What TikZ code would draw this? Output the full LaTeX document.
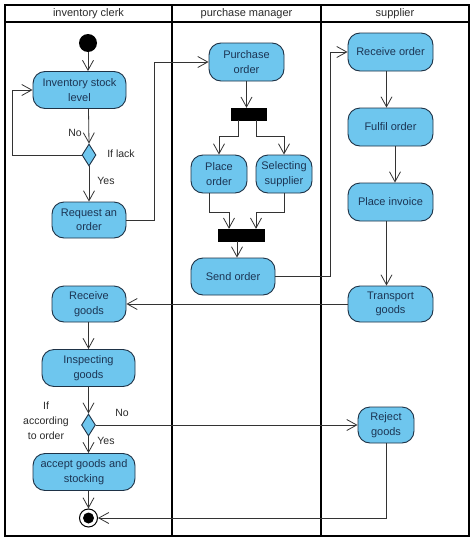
\documentclass[tikz,border=0pt]{standalone}
\usepackage{fontspec}
\setmainfont{Liberation Sans}
\usetikzlibrary{arrows.meta,shapes.geometric,calc}
\definecolor{actfill}{HTML}{6EC6EE}
\definecolor{actline}{HTML}{1E3246}
\definecolor{acttext}{HTML}{1C3554}
\definecolor{conn}{HTML}{333333}
\definecolor{lbl}{HTML}{2A2A2A}
\begin{document}
\begin{tikzpicture}[x=1pt,y=-1pt,
  act/.style={draw=actline, line width=0.9pt, fill=actfill, rounded corners=12pt,
    text=acttext, align=center, inner sep=0pt, font=\fontsize{11}{14.5}\selectfont},
  bar/.style={draw=black, fill=black, inner sep=0pt, minimum height=12pt},
  dec/.style={shape=diamond, draw=actline, line width=0.9pt, fill=actfill, inner sep=0pt,
    minimum width=14pt, minimum height=22pt},
  arr/.style={draw=conn, line width=0.8pt, -{Straight Barb[length=10pt,width=11pt,line width=0.8pt]}},
  lab/.style={text=lbl, font=\fontsize{10.5}{15}\selectfont, inner sep=0pt, align=center},
  hdr/.style={text=lbl, font=\fontsize{11}{13}\selectfont, inner sep=0pt},
  lane/.style={draw=black, line width=1.6pt}
]
\useasboundingbox (0,0) rectangle (474,541);
\fill[white] (0,0) rectangle (474,541);
% swimlane frame
\draw[lane] (5,5) rectangle (469,536);
\draw[lane] (5,22) -- (469,22);
\draw[lane] (172,5) -- (172,536);
\draw[lane] (321,5) -- (321,536);
\node[hdr] (h1) at (88.5,13.5) {inventory clerk};
\node[hdr] (h2) at (246.5,13.5) {purchase manager};
\node[hdr] (h3) at (395,13.5) {supplier};

% nodes: inventory clerk
\node[circle, fill=black, minimum size=18pt, inner sep=0pt] (init) at (88,43) {};
\node[act, minimum width=93pt, minimum height=37pt] (inv) at (79.5,90) {Inventory stock\\level};
\node[dec] (d1) at (89,155) {};
\node[act, minimum width=74pt, minimum height=36pt] (req) at (89,220) {Request an\\order};
\node[act, minimum width=74pt, minimum height=36pt] (rg) at (89,304) {Receive\\goods};
\node[act, minimum width=93pt, minimum height=37pt] (insp) at (88.5,368) {Inspecting\\goods};
\node[dec] (d2) at (88.5,425) {};
\node[act, minimum width=102pt, minimum height=37pt] (acc) at (84,472) {accept goods and\\stocking};
\node[circle, draw=black, line width=1pt, fill=white, minimum size=18pt, inner sep=0pt] (fin) at (88.5,518) {};
\fill[black] (fin.center) circle (5.5pt);

% purchase manager
\node[act, minimum width=75pt, minimum height=38pt] (po) at (246.5,62) {Purchase\\order};
\node[bar, minimum width=35pt] (fork1) at (248.5,114) {};
\node[act, minimum width=56pt, minimum height=38pt] (place) at (219,174) {Place\\order};
\node[act, minimum width=56pt, minimum height=38pt] (sel) at (284,174) {Selecting\\supplier};
\node[bar, minimum width=46pt] (fork2) at (241,235) {};
\node[act, minimum width=84pt, minimum height=37pt] (send) at (233,276.5) {Send order};

% supplier
\node[act, minimum width=85pt, minimum height=38pt] (ro) at (390.5,52) {Receive order};
\node[act, minimum width=85pt, minimum height=38pt] (ful) at (390.5,127) {Fulfil order};
\node[act, minimum width=85pt, minimum height=38pt] (pinv) at (390.5,202) {Place invoice};
\node[act, minimum width=85pt, minimum height=36pt] (tr) at (390.5,304) {Transport\\goods};
\node[act, minimum width=56pt, minimum height=36pt] (rej) at (386,425) {Reject\\goods};

% labels
\node[lab] (lno1) at (75,133) {No};
\node[lab] (llack) at (121,154) {If lack};
\node[lab] (lyes1) at (106,181) {Yes};
\node[lab] (lacc) at (46,421) {If\\according\\to order};
\node[lab] (lno2) at (122,413) {No};
\node[lab] (lyes2) at (106,441) {Yes};

% connectors
\draw[arr] (init.south) -- (init.south |- inv.north);
\draw[arr] ([xshift=9pt]inv.south) -- (d1.north);
\draw[arr] (d1.west) -- ++(-69,0) |- (inv.west);
\draw[arr] (d1.south) -- (d1.south |- req.north);
\draw[arr] (req.east) -- ++(28,0) |- (po.west);
\draw[arr] (po.south) -- (po.south |- fork1.north);
\draw[arr] ([xshift=-10.5pt]fork1.south) -- ++(0,16) -| (place.north);
\draw[arr] ([xshift=7.5pt]fork1.south) -- ++(0,16) -| (sel.north);
\draw[arr] ([xshift=-10pt]place.south) -- ++(0,19) -| ([xshift=-12pt]fork2.north);
\draw[arr] (sel.south) -- ++(0,19) -| ([xshift=15pt]fork2.north);
\draw[arr] ([xshift=-4pt]fork2.south) -- ([xshift=4pt]send.north);
\draw[arr] (send.east) -- ++(55,0) |- (ro.west);
\draw[arr] ([xshift=-4pt]ro.south) -- ([xshift=-4pt]ful.north);
\draw[arr] ([xshift=4.5pt]ful.south) -- ([xshift=4.5pt]pinv.north);
\draw[arr] ([xshift=-4pt]pinv.south) -- ([xshift=-4pt]tr.north);
\draw[arr] (tr.west) -- (rg.east);
\draw[arr] ([xshift=-0.5pt]rg.south) -- ([xshift=-0.5pt]rg.south |- insp.north);
\draw[arr] (insp.south) -- (d2.north);
\draw[arr] (d2.south) -- (d2.south |- acc.north);
\draw[arr] (d2.east) -- (rej.west);
\draw[arr] (fin.north |- acc.south) -- (fin.north);
\draw[arr] (rej.south) |- (fin.east);
\end{tikzpicture}
\end{document}
